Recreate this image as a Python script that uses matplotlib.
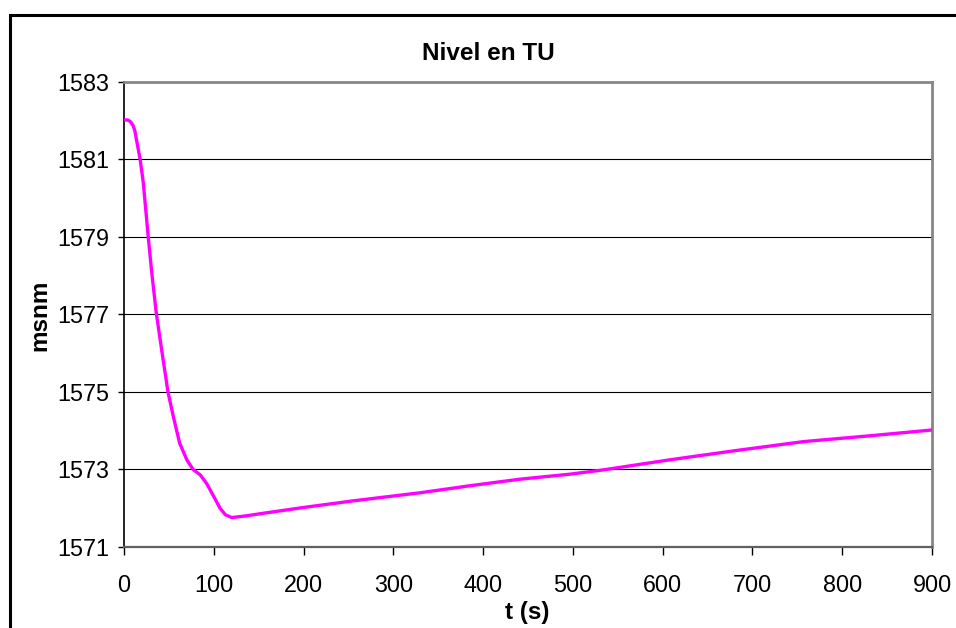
import matplotlib
matplotlib.use("Agg")
import matplotlib.pyplot as plt
from matplotlib.patches import Rectangle

# Water level in the surge tank (TU) over time
time_s = [0, 4, 7, 10, 12, 14, 18, 21.5, 27, 31, 36, 42, 49, 55, 62, 70, 77,
          85, 92, 101, 107, 113, 120, 135, 155, 200, 255, 330, 385, 441, 497,
          534, 608, 682, 757, 831, 900]
level_msnm = [1582.02, 1582.02, 1581.98, 1581.88, 1581.75, 1581.5, 1581.0,
              1580.4, 1579.0, 1578.06, 1577.03, 1576.08, 1575.0, 1574.36,
              1573.68, 1573.25, 1573.0, 1572.86, 1572.64, 1572.26, 1572.0,
              1571.83, 1571.76, 1571.8, 1571.87, 1572.02, 1572.19, 1572.40,
              1572.58, 1572.75, 1572.88, 1572.99, 1573.25, 1573.49, 1573.72,
              1573.87, 1574.02]

x_ticks = [0, 100, 200, 300, 400, 500, 600, 700, 800, 900]
y_ticks = [1571, 1573, 1575, 1577, 1579, 1581, 1583]

plt.rcParams['font.family'] = ['Liberation Sans', 'DejaVu Sans']

W, H = 956, 628
fig = plt.figure(figsize=(W / 100, H / 100), dpi=100)
fig.patch.set_facecolor('white')

# chart-area frame
fig.patches.append(Rectangle((9.5 / W, -0.2), 1.2, 1.2 - 14.5 / H,
                             transform=fig.transFigure, fill=False,
                             edgecolor='black', linewidth=2.2))

ax = fig.add_axes([124 / W, 1 - 547 / H, (932 - 124) / W, (547 - 82) / H])
ax.set_xlim(0, 900)
ax.set_ylim(1571, 1583)
ax.set_xticks(x_ticks)
ax.set_yticks(y_ticks)
ax.set_xticklabels([str(v) for v in x_ticks])
ax.set_yticklabels([str(v) for v in y_ticks])

for y in y_ticks[1:-1]:
    ax.axhline(y, color='black', linewidth=0.8, zorder=1)

ax.plot(time_s, level_msnm, color='#FF00FF', linewidth=2.4,
        solid_joinstyle='round', solid_capstyle='round', zorder=3)

for side in ('top', 'right'):
    ax.spines[side].set_color('#868686')
    ax.spines[side].set_linewidth(2.0)
ax.spines['bottom'].set_color('#606060')
ax.spines['bottom'].set_linewidth(1.6)
ax.spines['left'].set_color('black')
ax.spines['left'].set_linewidth(1.2)

ax.tick_params(axis='x', direction='out', length=5.5, width=1.0,
               color='black', labelsize=16.8, pad=14)
ax.tick_params(axis='y', direction='out', length=4.5, width=1.0,
               color='black', labelsize=16.8, pad=6)

fig.text(488 / W, 1 - 53 / H, 'Nivel en TU', ha='center', va='center',
         fontsize=17.5, fontweight='bold')
fig.text(527 / W, 1 - 613 / H, 't (s)', ha='center', va='center',
         fontsize=17.5, fontweight='bold')
fig.text(40 / W, 1 - 315 / H, 'msnm', ha='center', va='center',
         rotation=90, fontsize=17.5, fontweight='bold')

fig.savefig('out.png', dpi=100, facecolor='white')
